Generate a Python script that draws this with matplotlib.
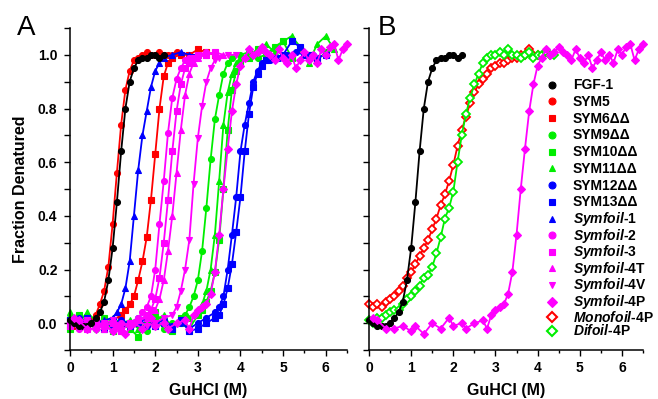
"""Chemical denaturation curves (GuHCl) for FGF-1 and Symfoil designs, panels A and B."""

import matplotlib

matplotlib.use("Agg")
import matplotlib.pyplot as plt
from matplotlib.lines import Line2D
from matplotlib.ticker import MultipleLocator
from matplotlib.font_manager import FontProperties

plt.rcParams["font.family"] = ["Liberation Sans", "DejaVu Sans"]
plt.rcParams["mathtext.fontset"] = "custom"
plt.rcParams["mathtext.it"] = "Liberation Sans:italic:bold"
plt.rcParams["mathtext.rm"] = "Liberation Sans:bold"

BLACK = "#000000"
RED = "#ff0000"
GREEN = "#00ee00"
BLUE = "#0000ff"
MAGENTA = "#ff00ff"

# ---- data ----
fgf1_x = [0.0, 0.1, 0.2, 0.3, 0.4, 0.5, 0.6, 0.7, 0.8, 0.9, 1.0, 1.1, 1.2, 1.3, 1.4, 1.5,
          1.6, 1.7, 1.8, 1.9, 2.0, 2.1, 2.2]
fgf1_y = [0.01, 0.0, -0.01, -0.01, -0.01, 0.0, 0.02, 0.04, 0.08, 0.16, 0.28, 0.45, 0.64,
          0.80, 0.90, 0.95, 0.98, 0.99, 0.99, 1.0, 1.0, 0.99, 1.0]

sym5_x = [0.0, 0.1, 0.2, 0.3, 0.4, 0.5, 0.6, 0.7, 0.8, 0.9, 1.0, 1.1, 1.2, 1.3, 1.4, 1.5,
          1.6, 1.7, 1.8, 1.9, 2.0, 2.1, 2.2, 2.3, 2.4, 2.5, 2.6]
sym5_y = [0.0, -0.01, 0.0, -0.01, 0.0, 0.01, 0.03, 0.07, 0.12, 0.21, 0.37, 0.56, 0.74,
          0.87, 0.94, 0.98, 0.99, 1.0, 1.01, 1.0, 1.0, 1.01, 1.0, 1.0, 1.0, 1.01, 1.0]

sym6_x = [0.0, 0.2, 0.4, 0.6, 0.8, 1.0, 1.2, 1.3, 1.4, 1.5, 1.6, 1.7, 1.8, 1.9, 2.0, 2.1,
          2.2, 2.3, 2.4, 2.6, 2.8, 3.0, 3.2, 3.4]
sym6_y = [0.01, -0.01, 0.01, 0.0, -0.01, 0.01, 0.03, 0.05, 0.07, 0.10, 0.16, 0.23, 0.32,
          0.46, 0.63, 0.80, 0.92, 0.97, 0.99, 1.0, 1.0, 1.02, 1.01, 1.0]

sym9_x = [0.0, 0.2, 0.4, 0.6, 0.8, 1.0, 1.2, 1.4, 1.6, 1.8, 2.0, 2.2, 2.4, 2.6, 2.7, 2.8,
          2.9, 3.0, 3.1, 3.2, 3.3, 3.4, 3.5, 3.6, 3.7, 3.8, 4.0, 4.2, 4.4, 4.6, 4.8, 5.0]
sym9_y = [0.02, 0.01, 0.0, -0.02, 0.01, -0.01, 0.0, -0.02, 0.01, -0.03, 0.02, -0.02, 0.0,
          0.01, 0.03, 0.06, 0.10, 0.16, 0.27, 0.43, 0.61, 0.76, 0.85, 0.93, 0.97, 0.99,
          1.0, 1.01, 0.99, 1.0, 1.02, 1.0]

sym10_x = [0.0, 0.2, 0.4, 0.6, 0.8, 1.0, 1.2, 1.4, 1.6, 1.8, 2.0, 2.2, 2.4, 2.6, 2.8, 3.0,
           3.1, 3.2, 3.3, 3.4, 3.5, 3.6, 3.7, 3.8, 3.9, 4.0, 4.2, 4.4, 4.6, 4.8, 5.0, 5.2,
           5.4, 5.6, 5.8, 6.0]
sym10_y = [-0.02, 0.03, 0.0, -0.01, 0.02, -0.03, 0.0, -0.02, -0.05, 0.01, 0.04, 0.0, -0.03,
           0.02, -0.02, 0.03, 0.05, 0.08, 0.12, 0.19, 0.31, 0.50, 0.72, 0.87, 0.94, 0.97,
           0.99, 1.02, 1.0, 1.03, 1.05, 0.99, 1.02, 1.0, 0.98, 1.01]

sym11_x = [0.0, 0.2, 0.4, 0.6, 0.8, 1.0, 1.2, 1.4, 1.6, 1.8, 2.0, 2.2, 2.4, 2.6, 2.8, 3.0,
           3.1, 3.2, 3.3, 3.4, 3.5, 3.6, 3.7, 3.8, 3.9, 4.0, 4.2, 4.4, 4.6, 4.8, 5.0, 5.2,
           5.4, 5.6, 5.8, 6.0, 6.2]
sym11_y = [0.04, 0.0, 0.04, 0.01, -0.01, 0.02, 0.0, 0.01, -0.02, 0.0, 0.01, 0.03, -0.02,
           0.0, 0.02, 0.04, 0.07, 0.12, 0.20, 0.33, 0.53, 0.74, 0.86, 0.93, 0.97, 0.99,
           1.0, 1.02, 1.04, 1.01, 1.05, 1.07, 1.03, 0.97, 1.04, 1.07, 1.02]

sym12_x = [0.0, 0.2, 0.4, 0.6, 0.8, 1.0, 1.2, 1.4, 1.6, 1.8, 2.0, 2.2, 2.4, 2.6, 2.8, 3.0,
           3.2, 3.4, 3.5, 3.6, 3.7, 3.8, 3.9, 4.0, 4.1, 4.2, 4.3, 4.4, 4.5, 4.7, 4.9, 5.1,
           5.3, 5.5, 5.7]
sym12_y = [0.0, 0.02, -0.01, 0.01, 0.0, -0.01, 0.01, 0.0, 0.02, -0.01, 0.0, 0.01, -0.01,
           0.0, -0.02, 0.0, 0.02, 0.04, 0.06, 0.10, 0.20, 0.33, 0.47, 0.64, 0.74, 0.82,
           0.90, 0.94, 0.97, 0.98, 0.99, 1.0, 1.01, 1.0, 1.0]

sym13_x = [0.0, 0.2, 0.4, 0.6, 0.8, 1.0, 1.2, 1.4, 1.6, 1.8, 2.0, 2.2, 2.4, 2.6, 2.8, 3.0,
           3.2, 3.4, 3.5, 3.6, 3.7, 3.8, 3.9, 4.0, 4.1, 4.2, 4.3, 4.4, 4.5, 4.6, 4.8, 5.0,
           5.2, 5.4, 5.6, 5.8, 6.0]
sym13_y = [0.01, -0.01, 0.02, 0.0, -0.02, 0.01, 0.0, -0.01, 0.0, 0.02, -0.01, 0.0, -0.02,
           0.01, -0.03, -0.02, 0.0, 0.02, 0.03, 0.07, 0.13, 0.22, 0.34, 0.47, 0.64, 0.78,
           0.88, 0.93, 0.96, 0.98, 0.99, 1.0, 1.05, 1.03, 1.0, 0.99, 1.0]

symfoil1_x = [0.0, 0.2, 0.4, 0.6, 0.8, 1.0, 1.1, 1.2, 1.3, 1.4, 1.5, 1.6, 1.7, 1.8, 1.9,
              2.0, 2.1, 2.2, 2.4, 2.6, 2.8, 3.0]
symfoil1_y = [0.0, 0.01, -0.01, 0.0, 0.01, 0.02, 0.04, 0.07, 0.13, 0.23, 0.40, 0.57, 0.70,
              0.79, 0.88, 0.94, 0.97, 0.99, 1.0, 1.01, 1.0, 1.0]

symfoil2_x = [0.0, 0.2, 0.4, 0.6, 0.8, 1.0, 1.2, 1.4, 1.6, 1.7, 1.8, 1.9, 2.0, 2.1, 2.2,
              2.3, 2.4, 2.5, 2.6, 2.7, 2.8, 3.0, 3.2, 3.4]
symfoil2_y = [0.0, -0.02, 0.01, -0.01, 0.0, -0.03, 0.0, -0.01, 0.02, 0.04, 0.06, 0.10, 0.20,
              0.37, 0.53, 0.71, 0.84, 0.91, 0.95, 0.98, 0.99, 1.0, 1.01, 1.0]

symfoil3_x = [0.0, 0.2, 0.4, 0.6, 0.8, 1.0, 1.2, 1.4, 1.6, 1.8, 1.9, 2.0, 2.1, 2.2, 2.3,
              2.4, 2.5, 2.6, 2.7, 2.8, 2.9, 3.0, 3.2, 3.4]
symfoil3_y = [-0.01, 0.0, -0.02, 0.01, -0.01, 0.0, -0.03, 0.0, 0.01, 0.03, 0.05, 0.09, 0.17,
              0.30, 0.46, 0.64, 0.79, 0.89, 0.95, 0.97, 0.99, 1.0, 1.0, 1.01]

symfoil4t_x = [0.0, 0.2, 0.4, 0.6, 0.8, 1.0, 1.2, 1.4, 1.6, 1.8, 2.0, 2.1, 2.2, 2.3, 2.4,
               2.5, 2.6, 2.7, 2.8, 2.9, 3.0, 3.2, 3.4, 3.6]
symfoil4t_y = [0.0, 0.01, -0.01, 0.0, -0.02, 0.01, -0.01, 0.0, 0.01, 0.02, 0.05, 0.09, 0.16,
               0.27, 0.40, 0.56, 0.72, 0.85, 0.93, 0.97, 0.99, 1.0, 1.01, 1.0]

symfoil4v_x = [0.0, 0.2, 0.4, 0.6, 0.8, 1.0, 1.2, 1.4, 1.6, 1.8, 2.0, 2.2, 2.4, 2.5, 2.6,
               2.7, 2.8, 2.9, 3.0, 3.1, 3.2, 3.3, 3.4, 3.5, 3.7, 3.9]
symfoil4v_y = [0.0, -0.01, 0.01, -0.02, 0.0, 0.01, -0.01, 0.0, 0.01, -0.01, 0.0, 0.02, 0.03,
               0.06, 0.12, 0.20, 0.31, 0.52, 0.69, 0.81, 0.90, 0.95, 0.98, 0.99, 1.0, 1.0]

symfoil4p_x = [0.1, 0.2, 0.4, 0.6, 0.8, 1.0, 1.1, 1.3, 1.5, 1.7, 1.9, 2.0, 2.2, 2.3, 2.5,
               2.7, 2.8, 2.9, 3.0, 3.1, 3.2, 3.3, 3.4, 3.5, 3.6, 3.7, 3.8, 3.9, 4.0, 4.1,
               4.2, 4.3, 4.4, 4.5, 4.6, 4.7, 4.8, 4.9, 5.0, 5.1, 5.2, 5.3, 5.4, 5.5, 5.6,
               5.7, 5.8, 5.9, 6.0, 6.1, 6.2, 6.3, 6.4, 6.5]
symfoil4p_y = [0.02, 0.01, -0.02, -0.02, -0.01, -0.03, -0.01, -0.04, 0.0, -0.02, 0.02, -0.01,
               0.0, -0.02, 0.0, 0.01, -0.02, 0.03, 0.05, 0.06, 0.07, 0.11, 0.19, 0.33, 0.50,
               0.65, 0.79, 0.89, 0.96, 0.99, 1.02, 1.0, 1.01, 1.03, 1.01, 1.0, 0.98, 1.02,
               0.99, 0.97, 1.0, 0.95, 0.98, 1.01, 0.98, 1.0, 0.97, 1.02, 1.0, 1.03, 1.04,
               0.98, 1.02, 1.04]

monofoil_x = [0.0, 0.1, 0.2, 0.3, 0.4, 0.5, 0.6, 0.7, 0.8, 0.9, 1.0, 1.1, 1.2, 1.3, 1.4,
              1.5, 1.6, 1.7, 1.8, 1.9, 2.0, 2.1, 2.2, 2.3, 2.4, 2.5, 2.6, 2.7, 2.8, 2.9,
              3.0, 3.1, 3.2, 3.3, 3.4, 3.5, 3.6, 3.7, 3.8, 3.9, 4.0]
monofoil_y = [0.07, 0.06, 0.07, 0.06, 0.08, 0.09, 0.10, 0.12, 0.14, 0.17, 0.19, 0.22, 0.25,
              0.28, 0.31, 0.35, 0.39, 0.44, 0.48, 0.53, 0.59, 0.66, 0.72, 0.77, 0.82, 0.86,
              0.89, 0.91, 0.93, 0.95, 0.96, 0.97, 0.97, 0.98, 0.99, 0.99, 1.0, 1.0, 1.02,
              1.0, 1.0]

difoil_x = [0.0, 0.1, 0.2, 0.3, 0.4, 0.5, 0.6, 0.7, 0.8, 0.9, 1.0, 1.1, 1.2, 1.3, 1.4,
            1.5, 1.6, 1.7, 1.8, 1.9, 2.0, 2.1, 2.2, 2.3, 2.4, 2.5, 2.6, 2.7, 2.8, 2.9,
            3.0, 3.1, 3.2, 3.3, 3.4, 3.5, 3.6, 3.7, 3.8, 3.9, 4.0, 4.1, 4.2, 4.3, 4.4]
difoil_y = [0.01, 0.0, 0.02, 0.02, 0.03, 0.04, 0.05, 0.05, 0.07, 0.09, 0.10, 0.12, 0.14,
            0.17, 0.18, 0.21, 0.26, 0.32, 0.39, 0.43, 0.49, 0.60, 0.70, 0.78, 0.84, 0.89,
            0.93, 0.97, 0.99, 1.0, 1.0, 1.01, 1.0, 1.02, 1.0, 1.0, 0.99, 1.0, 1.01, 0.99,
            1.0, 1.0, 1.01, 1.0, 1.0]

# legend entries: (label, colour, marker, filled); plain names first, italic ones after
plain_entries = [
    ("FGF-1", BLACK, "o", True),
    ("SYM5", RED, "o", True),
    ("SYM6\u0394\u0394", RED, "s", True),
    ("SYM9\u0394\u0394", GREEN, "o", True),
    ("SYM10\u0394\u0394", GREEN, "s", True),
    ("SYM11\u0394\u0394", GREEN, "^", True),
    ("SYM12\u0394\u0394", BLUE, "o", True),
    ("SYM13\u0394\u0394", BLUE, "s", True),
]
italic_entries = [
    (r"$\mathit{Symfoil}$-1", BLUE, "^", True),
    (r"$\mathit{Symfoil}$-2", MAGENTA, "o", True),
    (r"$\mathit{Symfoil}$-3", MAGENTA, "s", True),
    (r"$\mathit{Symfoil}$-4T", MAGENTA, "^", True),
    (r"$\mathit{Symfoil}$-4V", MAGENTA, "v", True),
    (r"$\mathit{Symfoil}$-4P", MAGENTA, "D", True),
    (r"$\mathit{Monofoil}$-4P", RED, "D", False),
    (r"$\mathit{Difoil}$-4P", GREEN, "D", False),
]


def draw_series(ax, x, y, color, marker, filled=True, ms=4.3):
    face = color if filled else "white"
    ax.plot(x, y, color=color, lw=1.3, marker=marker, ms=ms, mfc=face, mec=color,
            mew=1.3 if not filled else 0.8, clip_on=False)


def style_axes(ax, labels_y=True):
    ax.set_xlim(0, 6.5)
    ax.set_ylim(-0.1, 1.1)
    ax.spines["top"].set_visible(False)
    ax.spines["right"].set_visible(False)
    for side in ("left", "bottom"):
        ax.spines[side].set_linewidth(1.1)
    ax.xaxis.set_major_locator(MultipleLocator(1))
    ax.xaxis.set_minor_locator(MultipleLocator(0.5))
    ax.yaxis.set_major_locator(MultipleLocator(0.2))
    ax.yaxis.set_minor_locator(MultipleLocator(0.1))
    ax.tick_params(which="both", direction="out", width=1.0, labelsize=10)
    ax.tick_params(axis="y", which="both", length=4, pad=5)
    ax.tick_params(axis="x", which="major", length=4, pad=4)
    ax.tick_params(axis="x", which="minor", length=2.5)
    if not labels_y:
        ax.tick_params(axis="y", labelleft=False)
    for lab in ax.get_xticklabels() + ax.get_yticklabels():
        lab.set_fontweight("bold")
    ax.set_xlabel("GuHCl (M)", fontsize=11.5, fontweight="bold", labelpad=6)


def legend_block(ax, entries, top_px, spacing):
    handles = [
        Line2D([], [], linestyle="none", marker=m, color=c, mfc=(c if f else "white"),
               mec=c, mew=(1.5 if not f else 0.8), ms=5)
        for _, c, m, f in entries
    ]
    labels = [lab for lab, _, _, _ in entries]
    return ax.legend(handles, labels, loc="upper left",
                     bbox_to_anchor=(545 / 658, 1 - top_px / 399),
                     bbox_transform=ax.figure.transFigure, frameon=False, borderpad=0,
                     borderaxespad=0, handlelength=1.0, handletextpad=1.0,
                     labelspacing=spacing, handleheight=0.5,
                     prop=FontProperties(family="Liberation Sans", weight="bold", size=10))


fig = plt.figure(figsize=(6.58, 3.99), dpi=100)
ax_a = fig.add_axes([70 / 658, 49 / 399, 277 / 658, 322 / 399])
ax_b = fig.add_axes([369 / 658, 49 / 399, 274 / 658, 322 / 399])

# Panel A
draw_series(ax_a, sym5_x, sym5_y, RED, "o")
draw_series(ax_a, sym6_x, sym6_y, RED, "s")
draw_series(ax_a, sym9_x, sym9_y, GREEN, "o")
draw_series(ax_a, sym10_x, sym10_y, GREEN, "s")
draw_series(ax_a, sym11_x, sym11_y, GREEN, "^")
draw_series(ax_a, sym12_x, sym12_y, BLUE, "o")
draw_series(ax_a, sym13_x, sym13_y, BLUE, "s")
draw_series(ax_a, symfoil1_x, symfoil1_y, BLUE, "^")
draw_series(ax_a, symfoil2_x, symfoil2_y, MAGENTA, "o")
draw_series(ax_a, symfoil3_x, symfoil3_y, MAGENTA, "s")
draw_series(ax_a, symfoil4t_x, symfoil4t_y, MAGENTA, "^")
draw_series(ax_a, symfoil4v_x, symfoil4v_y, MAGENTA, "v")
draw_series(ax_a, fgf1_x, fgf1_y, BLACK, "o")
draw_series(ax_a, symfoil4p_x, symfoil4p_y, MAGENTA, "D", ms=4.5)

# Panel B
draw_series(ax_b, monofoil_x, monofoil_y, RED, "D", filled=False, ms=4.5)
draw_series(ax_b, difoil_x, difoil_y, GREEN, "D", filled=False, ms=4.5)
draw_series(ax_b, fgf1_x, fgf1_y, BLACK, "o")
draw_series(ax_b, symfoil4p_x, symfoil4p_y, MAGENTA, "D", ms=4.5)

style_axes(ax_a, labels_y=True)
style_axes(ax_b, labels_y=False)
ax_a.set_ylabel("Fraction Denatured", fontsize=11.5, fontweight="bold", labelpad=7)

# two stacked legend blocks so every row gets the same pitch
leg1 = legend_block(ax_b, plain_entries, 78, 0.2)
ax_b.add_artist(leg1)
legend_block(ax_b, italic_entries, 210, -0.1)

fig.text(17 / 658, 1 - 35 / 399, "A", fontsize=20, va="baseline", ha="left")
fig.text(378 / 658, 1 - 35 / 399, "B", fontsize=20, va="baseline", ha="left")

fig.savefig("out.png", dpi=100)
